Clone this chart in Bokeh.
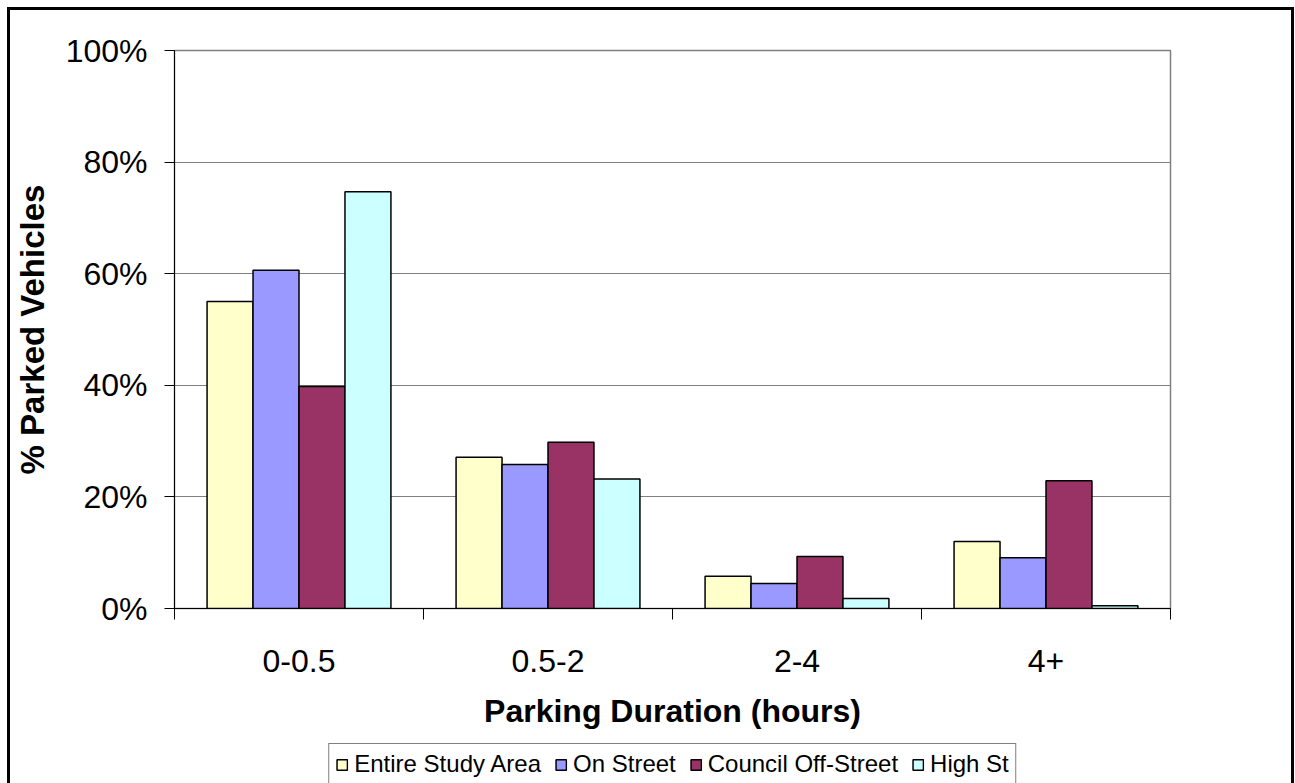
import numpy as np
from bokeh.plotting import figure
from bokeh.layouts import column
from bokeh.models import (ColumnDataSource, Range1d, FixedTicker, PrintfTickFormatter,
                          Legend, LegendItem)
from bokeh.embed import file_html
from bokeh.resources import INLINE

# ---- data ----
categories = ["0-0.5", "0.5-2", "2-4", "4+"]
series_names = ["Entire Study Area", "On Street", "Council Off-Street", "High St"]
entire_study_area = [55.0, 27.1, 5.8, 12.0]
on_street = [60.6, 25.8, 4.5, 9.1]
council_off_street = [39.8, 29.8, 9.3, 22.9]
high_st = [74.7, 23.2, 1.8, 0.5]
y_ticks = [0, 20, 40, 60, 80, 100]

colors = ["#FFFFCC", "#9999FF", "#993366", "#CCFFFF"]
series_values = [entire_study_area, on_street, council_off_street, high_st]

FONT = "Liberation Sans"

p = figure(width=1281, height=733, output_backend="svg", toolbar_location=None,
           x_range=Range1d(0, len(categories)), y_range=Range1d(0, 100),
           min_border_left=163, min_border_right=121, min_border_top=40, min_border_bottom=135)
p.background_fill_color = "white"
p.border_fill_color = "white"
p.outline_line_color = "#808080"
p.outline_line_width = 1.5

centers = np.arange(len(categories)) + 0.5
bar_w = 0.1846
offsets = (np.arange(len(series_names)) - (len(series_names) - 1) / 2) * bar_w

for name, vals, col, off in zip(series_names, series_values, colors, offsets):
    src = ColumnDataSource(dict(x=centers + off, top=vals))
    p.vbar(x="x", top="top", bottom=0, width=bar_w, source=src,
           fill_color=col, line_color="black", line_width=1.5)

# axes
xa = p.xaxis[0]
xa.ticker = FixedTicker(ticks=list(centers), minor_ticks=list(range(len(categories) + 1)))
xa.major_label_overrides = {float(c): lab for c, lab in zip(centers, categories)}
xa.major_tick_out = 0
xa.major_tick_in = 0
xa.minor_tick_out = 11
xa.minor_tick_in = 0
xa.minor_tick_line_color = "black"
xa.axis_line_color = "black"
xa.major_label_text_font = FONT
xa.major_label_text_font_size = "32px"
xa.major_label_text_color = "black"
xa.major_label_standoff = 30
xa.axis_label = "Parking Duration (hours)"
xa.axis_label_text_font = FONT
xa.axis_label_text_font_size = "32px"
xa.axis_label_text_font_style = "bold"
xa.axis_label_text_color = "black"
xa.axis_label_standoff = 18

ya = p.yaxis[0]
ya.ticker = FixedTicker(ticks=y_ticks, minor_ticks=[])
ya.formatter = PrintfTickFormatter(format="%d%%")
ya.major_tick_out = 10
ya.major_tick_in = 0
ya.major_tick_line_color = "black"
ya.axis_line_color = "black"
ya.major_label_text_font = FONT
ya.major_label_text_font_size = "32px"
ya.major_label_text_color = "black"
ya.major_label_standoff = 17
ya.axis_label = "% Parked Vehicles"
ya.axis_label_text_font = FONT
ya.axis_label_text_font_size = "33px"
ya.axis_label_text_font_style = "bold"
ya.axis_label_text_color = "black"
ya.axis_label_standoff = 12

p.xgrid.visible = False
p.ygrid.grid_line_color = "#808080"
p.ygrid.grid_line_width = 1.2
p.ygrid.ticker = FixedTicker(ticks=y_ticks)

# ---- legend strip (separate figure below the chart) ----
lg = figure(width=1281, height=50, output_backend="svg", toolbar_location=None,
            x_range=Range1d(0, 1), y_range=Range1d(0, 1),
            x_axis_location=None, y_axis_location=None,
            min_border_left=50, min_border_right=0, min_border_top=0, min_border_bottom=0)
lg.outline_line_color = None
lg.background_fill_color = "white"
lg.border_fill_color = "white"
lg.xgrid.visible = False
lg.ygrid.visible = False
swatches = []
for col in colors:
    # degenerate swatch renderer at the strip's bottom edge; only its legend glyph shows
    swatches.append(lg.vbar(x=[0.5], top=[0], bottom=0, width=0, fill_color=col,
                            line_color="black", line_width=1.5))

legend = Legend(items=[LegendItem(label=n, renderers=[r]) for n, r in zip(series_names, swatches)],
                orientation="horizontal", location="top_center")
legend.label_text_font = FONT
legend.label_text_font_size = "24px"
legend.label_text_color = "black"
legend.glyph_width = 13
legend.glyph_height = 13
legend.label_standoff = 6
legend.spacing = 13
legend.padding = 6
legend.margin = 0
legend.border_line_color = "black"
legend.border_line_width = 1
legend.background_fill_color = "white"
lg.add_layout(legend, "center")

layout = column(p, lg, spacing=0)
layout.styles = {"margin-left": "7px", "margin-top": "7px",
                 "border-top": "3px solid black", "border-left": "3px solid black",
                 "border-right": "3px solid black"}

open("out.html", "w").write(file_html(layout, INLINE))
